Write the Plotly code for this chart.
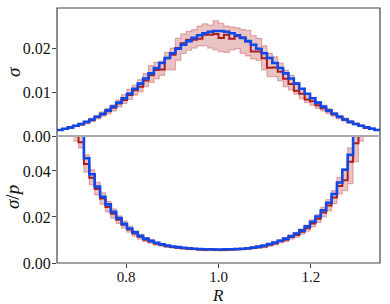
import numpy as np
import plotly.graph_objects as go

# ---------------- data ----------------
R_MIN, R_MAX, N_BINS = 0.65, 1.35, 60

sigma_model = [0.00138, 0.00165, 0.00196, 0.00232, 0.00274, 0.00322, 0.00376, 0.00437, 0.00506, 0.00583,
               0.00667, 0.00758, 0.00857, 0.00962, 0.01073, 0.01190, 0.01306, 0.01424, 0.01545, 0.01660,
               0.01772, 0.01882, 0.01982, 0.02073, 0.02158, 0.02230, 0.02290, 0.02337, 0.02370, 0.02386,
               0.02386, 0.02370, 0.02337, 0.02290, 0.02230, 0.02158, 0.02073, 0.01982, 0.01882, 0.01772,
               0.01660, 0.01545, 0.01424, 0.01306, 0.01190, 0.01073, 0.00962, 0.00857, 0.00758, 0.00667,
               0.00583, 0.00506, 0.00437, 0.00376, 0.00322, 0.00274, 0.00232, 0.00196, 0.00165, 0.00138]

sigma_est = [0.00135, 0.00160, 0.00190, 0.00228, 0.00262, 0.00310, 0.00360, 0.00425, 0.00490, 0.00560,
             0.00640, 0.00740, 0.00820, 0.00930, 0.01040, 0.01120, 0.01260, 0.01380, 0.01500, 0.01510,
             0.01770, 0.01850, 0.02000, 0.02110, 0.02190, 0.02190, 0.02210, 0.02300, 0.02300, 0.02320,
             0.02230, 0.02300, 0.02210, 0.02270, 0.02240, 0.02150, 0.01920, 0.01920, 0.01770, 0.01550,
             0.01560, 0.01460, 0.01300, 0.01180, 0.01030, 0.00960, 0.00830, 0.00790, 0.00700, 0.00630,
             0.00560, 0.00490, 0.00425, 0.00370, 0.00315, 0.00270, 0.00228, 0.00190, 0.00162, 0.00138]

sigma_lo = [0.00125, 0.00148, 0.00175, 0.00210, 0.00240, 0.00280, 0.00330, 0.00390, 0.00450, 0.00500,
            0.00570, 0.00660, 0.00740, 0.00830, 0.00930, 0.01000, 0.01120, 0.01220, 0.01300, 0.01380,
            0.01500, 0.01500, 0.01720, 0.01880, 0.01950, 0.02000, 0.02050, 0.02050, 0.02000, 0.01960,
            0.01920, 0.01900, 0.01960, 0.01980, 0.01880, 0.01820, 0.01750, 0.01720, 0.01500, 0.01350,
            0.01350, 0.01250, 0.01120, 0.01050, 0.00950, 0.00850, 0.00760, 0.00700, 0.00630, 0.00570,
            0.00510, 0.00450, 0.00390, 0.00340, 0.00290, 0.00250, 0.00210, 0.00175, 0.00150, 0.00128]

sigma_hi = [0.00148, 0.00176, 0.00210, 0.00250, 0.00290, 0.00340, 0.00400, 0.00470, 0.00550, 0.00630,
            0.00710, 0.00820, 0.00940, 0.01060, 0.01160, 0.01280, 0.01420, 0.01600, 0.01680, 0.01700,
            0.01900, 0.02000, 0.02220, 0.02320, 0.02380, 0.02420, 0.02500, 0.02550, 0.02520, 0.02620,
            0.02560, 0.02500, 0.02480, 0.02460, 0.02420, 0.02400, 0.02280, 0.02220, 0.02050, 0.01880,
            0.01800, 0.01660, 0.01500, 0.01380, 0.01220, 0.01060, 0.00960, 0.00880, 0.00780, 0.00700,
            0.00620, 0.00540, 0.00470, 0.00410, 0.00350, 0.00300, 0.00250, 0.00210, 0.00180, 0.00150]

# sigma / p (None = no data); 0.08 = beyond the top of the axis
ratio_model = [None, None, None, None, 0.0800, 0.0455, 0.0386, 0.0332, 0.0288, 0.0255,
               0.0222, 0.0195, 0.0170, 0.0150, 0.0133, 0.0118, 0.0106, 0.0096, 0.0088, 0.0081,
               0.0076, 0.0072, 0.0069, 0.0066, 0.0064, 0.0062, 0.0061, 0.0060, 0.0060, 0.0059,
               0.0059, 0.0060, 0.0060, 0.0061, 0.0062, 0.0064, 0.0067, 0.0071, 0.0076, 0.0082,
               0.0089, 0.0097, 0.0106, 0.0116, 0.0128, 0.0142, 0.0159, 0.0179, 0.0202, 0.0229,
               0.0262, 0.0300, 0.0350, 0.0405, 0.0470, 0.0800, None, None, None, None]

ratio_est = [None, None, None, 0.0800, 0.0525, 0.0430, 0.0370, 0.0322, 0.0280, 0.0243,
             0.0214, 0.0188, 0.0166, 0.0146, 0.0128, 0.0114, 0.0101, 0.0093, 0.0084, 0.0079,
             0.0073, 0.0070, 0.0066, 0.0064, 0.0062, 0.0061, 0.0059, 0.0058, 0.0059, 0.0058,
             0.0057, 0.0058, 0.0059, 0.0060, 0.0061, 0.0063, 0.0066, 0.0069, 0.0072, 0.0079,
             0.0085, 0.0094, 0.0101, 0.0113, 0.0122, 0.0136, 0.0151, 0.0172, 0.0192, 0.0220,
             0.0250, 0.0285, 0.0335, 0.0360, 0.0440, 0.0520, 0.0800, None, None, None]

ratio_lo = [None, None, None, 0.0530, 0.0500, 0.0395, 0.0340, 0.0296, 0.0255, 0.0222,
            0.0195, 0.0172, 0.0152, 0.0134, 0.0117, 0.0104, 0.0093, 0.0086, 0.0078, 0.0073,
            0.0068, 0.0065, 0.0062, 0.0060, 0.0058, 0.0057, 0.0055, 0.0054, 0.0055, 0.0054,
            0.0053, 0.0054, 0.0055, 0.0056, 0.0057, 0.0059, 0.0062, 0.0064, 0.0067, 0.0073,
            0.0079, 0.0087, 0.0093, 0.0104, 0.0112, 0.0125, 0.0138, 0.0157, 0.0176, 0.0200,
            0.0226, 0.0258, 0.0300, 0.0315, 0.0345, 0.0440, 0.0530, None, None, None]

ratio_hi = [None, None, None, 0.0900, 0.0900, 0.0470, 0.0405, 0.0350, 0.0305, 0.0268,
            0.0235, 0.0205, 0.0182, 0.0160, 0.0140, 0.0125, 0.0110, 0.0101, 0.0091, 0.0085,
            0.0079, 0.0075, 0.0071, 0.0068, 0.0066, 0.0065, 0.0063, 0.0062, 0.0063, 0.0062,
            0.0061, 0.0062, 0.0063, 0.0064, 0.0065, 0.0067, 0.0070, 0.0074, 0.0077, 0.0085,
            0.0092, 0.0102, 0.0110, 0.0123, 0.0133, 0.0148, 0.0165, 0.0188, 0.0210, 0.0242,
            0.0276, 0.0315, 0.0372, 0.0410, 0.0500, 0.0600, 0.0900, None, None, None]

x_ticks = [0.8, 1.0, 1.2]
x_tick_labels = ["0.8", "1.0", "1.2"]
top_ticks = [0.00, 0.01, 0.02]
top_tick_labels = ["0.00", "0.01", "0.02"]
bot_ticks = [0.00, 0.02, 0.04]
bot_tick_labels = ["0.00", "0.02", "0.04"]

# ---------------- styling ----------------
edges = np.linspace(R_MIN, R_MAX, N_BINS + 1)
BLUE = "rgb(18,72,232)"
RED = "rgb(170,30,30)"
BAND_FILL = "rgba(178,34,34,0.27)"
BAND_LINE = "rgba(178,34,34,0.32)"
FONT = "Liberation Serif, DejaVu Serif, serif"
SPLIT = 127.0 / 255.0


def step_xy(vals):
    idx = [i for i, v in enumerate(vals) if v is not None]
    f, l = idx[0], idx[-1]
    xs = list(edges[f:l + 2])
    ys = list(vals[f:l + 1]) + [vals[l]]
    return xs, ys


fig = go.Figure()


def add_panel(lo, hi, est, model, xa, ya):
    xl, yl = step_xy(lo)
    xh, yh = step_xy(hi)
    fig.add_trace(go.Scatter(x=xl, y=yl, mode="lines", line=dict(shape="hv", color=BAND_LINE, width=1.2),
                             xaxis=xa, yaxis=ya, showlegend=False, hoverinfo="skip"))
    fig.add_trace(go.Scatter(x=xh, y=yh, mode="lines", line=dict(shape="hv", color=BAND_LINE, width=1.2),
                             fill="tonexty", fillcolor=BAND_FILL,
                             xaxis=xa, yaxis=ya, showlegend=False, hoverinfo="skip"))
    xe, ye = step_xy(est)
    fig.add_trace(go.Scatter(x=xe, y=ye, mode="lines", line=dict(shape="hv", color=RED, width=2),
                             xaxis=xa, yaxis=ya, showlegend=False))
    xm, ym = step_xy(model)
    fig.add_trace(go.Scatter(x=xm, y=ym, mode="lines", line=dict(shape="hv", color=BLUE, width=2.6),
                             xaxis=xa, yaxis=ya, showlegend=False))


add_panel(sigma_lo, sigma_hi, sigma_est, sigma_model, "x", "y")
add_panel(ratio_lo, ratio_hi, ratio_est, ratio_model, "x2", "y2")

tickfont = dict(family=FONT, size=16, color="#111")
common_y = dict(ticks="outside", ticklen=4, tickwidth=1, tickcolor="#444", showgrid=False,
                zeroline=False, showline=False, tickfont=tickfont, automargin=False,
                ticklabelstandoff=-2)
title_font = dict(family=FONT, size=19, color="#111")

fig.update_layout(
    width=390, height=304,
    margin=dict(l=57, r=10, t=8, b=41),
    paper_bgcolor="white", plot_bgcolor="white",
    xaxis=dict(domain=[0, 1], range=[R_MIN, R_MAX], anchor="y", showticklabels=False, ticks="",
               showgrid=False, zeroline=False, showline=False, matches="x2", automargin=False),
    yaxis=dict(domain=[SPLIT, 1], range=[0, 0.0291], anchor="x",
               tickvals=top_ticks, ticktext=top_tick_labels, **common_y),
    xaxis2=dict(domain=[0, 1], range=[R_MIN, R_MAX], anchor="y2",
                tickvals=x_ticks, ticktext=x_tick_labels,
                ticks="outside", ticklen=4, tickwidth=1, tickcolor="#444", automargin=False,
                showgrid=False, zeroline=False, showline=False,
                tickfont=dict(family=FONT, size=15, color="#111"),
                ticklabelstandoff=-4),
    yaxis2=dict(domain=[0, SPLIT], range=[0, 0.0552], anchor="x2",
                tickvals=bot_ticks, ticktext=bot_tick_labels, **common_y),
    shapes=[
        dict(type="rect", xref="paper", yref="paper", x0=0, x1=1, y0=0, y1=1,
             line=dict(color="#444", width=1.2), fillcolor="rgba(0,0,0,0)", layer="above"),
        dict(type="line", xref="paper", yref="paper", x0=0, x1=1, y0=SPLIT, y1=SPLIT,
             line=dict(color="#a9a9a9", width=2), layer="above"),
    ],
    annotations=[
        dict(text="<i>σ</i>", xref="paper", yref="paper", x=-0.136, y=0.749, textangle=-90,
             showarrow=False, font=title_font, xanchor="center", yanchor="middle"),
        dict(text="<i>σ</i>/<i>p</i>", xref="paper", yref="paper", x=-0.136, y=0.259, textangle=-90,
             showarrow=False, font=title_font, xanchor="center", yanchor="middle"),
        dict(text="<i>R</i>", xref="paper", yref="paper", x=0.498, y=-0.088,
             showarrow=False, font=dict(family=FONT, size=17, color="#111"),
             xanchor="center", yanchor="top", borderpad=0),
    ],
)

fig.write_html("out.html", config={"displayModeBar": False},
               post_script="document.body.style.margin='0';document.body.style.padding='0';")
